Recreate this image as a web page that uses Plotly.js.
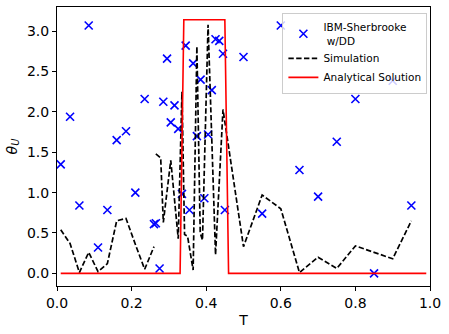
<!DOCTYPE html>
<html>
<head>
<meta charset="utf-8">
<script src="https://cdn.plot.ly/plotly-3.0.1.min.js"></script>
<style>
  html, body { margin: 0; padding: 0; background: #fff; }
  #plot { width: 449px; height: 334px; }
</style>
</head>
<body>
<div id="plot"></div>
<script>
// IBM-Sherbrooke w/DD measurements
var expT = [0.01, 0.035, 0.06, 0.085, 0.11, 0.135, 0.16, 0.185, 0.21, 0.235,
  0.26, 0.265, 0.275, 0.285, 0.295, 0.305, 0.315, 0.325, 0.335, 0.345,
  0.355, 0.365, 0.375, 0.385, 0.395, 0.405, 0.415, 0.425, 0.435, 0.445,
  0.45, 0.5, 0.55, 0.6, 0.65, 0.7, 0.75, 0.8, 0.85, 0.9, 0.95];
var expTheta = [1.35, 1.94, 0.84, 3.07, 0.32, 0.785, 1.65, 1.76, 1.0, 2.16,
  0.61, 0.62, 0.06, 2.125, 2.66, 1.87, 2.08, 1.79, 0.985, 2.82,
  0.785, 2.60, 1.70, 2.40, 0.93, 1.72, 2.27, 2.90, 2.88, 2.72,
  0.785, 2.68, 0.74, 3.07, 1.28, 0.95, 1.63, 2.16, 0.0, 2.386, 0.84];

// simulation (null = break in the line)
var simT = [0.01, 0.035, 0.06, 0.085, 0.11, 0.135, 0.16, 0.185, 0.21, 0.235, 0.26, 0.262,
  0.265, 0.278, 0.285, 0.305, 0.325, 0.335, 0.342, 0.35, 0.365, 0.375, 0.384, 0.39,
  0.405, 0.425, 0.445, 0.5, 0.55, 0.6, 0.65, 0.7, 0.75, 0.8, 0.85, 0.9, 0.95];
var simTheta = [0.54, 0.37, 0.01, 0.26, 0.02, 0.12, 0.65, 0.68, 0.36, 0.05, 0.33, null,
  1.48, 1.43, 0.63, 1.40, 0.43, 2.25, 0.48, 0.46, 0.04, 2.81, 0.50, 0.41,
  3.08, 0.23, 2.03, 0.33, 0.97, 0.80, 0.01, 0.20, 0.06, 0.34, 0.26, 0.18, 0.65];

// analytical solution
var anaT = [0.01, 0.33, 0.34, 0.45, 0.46, 0.99];
var anaTheta = [0, 0, Math.PI, Math.PI, 0, 0];

var font = 'DejaVu Sans, sans-serif';

var traces = [
  {
    x: expT, y: expTheta, type: 'scatter', mode: 'markers',
    name: 'IBM-Sherbrooke<br> w/DD',
    marker: { symbol: 'x-thin', size: 8, color: '#0000ff', line: { color: '#0000ff', width: 1.6 } }
  },
  {
    x: simT, y: simTheta, type: 'scatter', mode: 'lines',
    name: 'Simulation', connectgaps: false,
    line: { color: '#000000', width: 1.7, dash: '5.4px,2.4px' }
  },
  {
    x: anaT, y: anaTheta, type: 'scatter', mode: 'lines',
    name: 'Analytical Solution',
    line: { color: '#ff0000', width: 1.6 }
  }
];

var axisCommon = {
  showline: true, mirror: true, linecolor: '#000', linewidth: 1,
  ticks: 'outside', ticklen: 4, tickwidth: 1, tickcolor: '#000',
  showgrid: false, zeroline: false,
  tickfont: { family: font, size: 14, color: '#000' },
  tickformat: '.1f'
};

var layout = {
  width: 449, height: 334,
  margin: { l: 57, r: 19, t: 7, b: 48 },
  paper_bgcolor: '#fff', plot_bgcolor: '#fff',
  font: { family: font, color: '#000' },
  xaxis: Object.assign({}, axisCommon, {
    range: [0, 1], dtick: 0.2, tick0: 0,
    title: { text: 'T', font: { family: font, size: 14 }, standoff: 5 }
  }),
  yaxis: Object.assign({}, axisCommon, {
    range: [-0.157, 3.299], dtick: 0.5, tick0: 0,
    title: { text: '<i>θ</i><sub><i>U</i></sub>', font: { family: font, size: 14 }, standoff: 6 }
  }),
  legend: {
    x: 0.993, y: 0.98, xanchor: 'right', yanchor: 'top',
    bgcolor: 'rgba(255,255,255,0.8)', bordercolor: '#cccccc', borderwidth: 1,
    font: { family: font, size: 10.5, color: '#000' },
    tracegroupgap: 0, itemwidth: 30
  },
  showlegend: true
};

Plotly.newPlot('plot', traces, layout, { displayModeBar: false, staticPlot: true });
</script>
</body>
</html>
